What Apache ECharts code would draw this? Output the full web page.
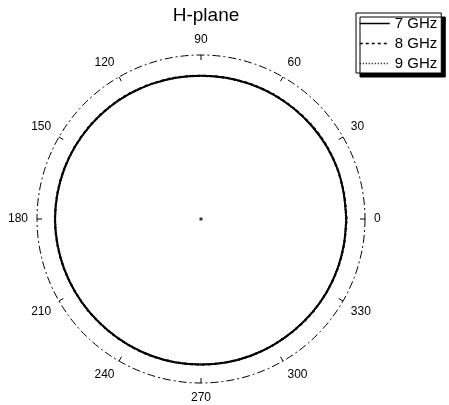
<!DOCTYPE html>
<html>
<head>
<meta charset="utf-8">
<script src="https://cdn.jsdelivr.net/npm/echarts@6/dist/echarts.min.js"></script>
<style>
  html, body { margin: 0; padding: 0; background: #fff; }
  #chart { width: 449px; height: 405px; }
</style>
</head>
<body>
<div id="chart"></div>
<script>
// angles in degrees, 0..360 every 10
const angles = [0, 10, 20, 30, 40, 50, 60, 70, 80, 90, 100, 110, 120, 130, 140, 150, 160, 170,
  180, 190, 200, 210, 220, 230, 240, 250, 260, 270, 280, 290, 300, 310, 320, 330, 340, 350, 360];

// normalised pattern (radius fraction of outer ring)
const ghz7 = [0.886, 0.884, 0.887, 0.885, 0.882, 0.880, 0.878, 0.876, 0.874, 0.873, 0.875, 0.877,
  0.879, 0.882, 0.884, 0.886, 0.888, 0.889, 0.890, 0.889, 0.888, 0.887, 0.886, 0.885, 0.886,
  0.887, 0.888, 0.887, 0.888, 0.887, 0.886, 0.885, 0.886, 0.887, 0.886, 0.885, 0.886];
const ghz8 = [0.888, 0.886, 0.885, 0.887, 0.884, 0.881, 0.879, 0.877, 0.875, 0.874, 0.876, 0.878,
  0.881, 0.883, 0.885, 0.887, 0.889, 0.890, 0.891, 0.890, 0.889, 0.886, 0.887, 0.886, 0.887,
  0.888, 0.887, 0.888, 0.887, 0.888, 0.885, 0.886, 0.887, 0.886, 0.887, 0.886, 0.888];
const ghz9 = [0.884, 0.885, 0.886, 0.884, 0.883, 0.879, 0.877, 0.875, 0.873, 0.872, 0.874, 0.876,
  0.880, 0.881, 0.883, 0.885, 0.887, 0.888, 0.889, 0.888, 0.887, 0.888, 0.885, 0.884, 0.885,
  0.886, 0.887, 0.886, 0.887, 0.886, 0.887, 0.884, 0.885, 0.886, 0.885, 0.886, 0.884];

const names = ["7 GHz", "8 GHz", "9 GHz"];
const lineTypes = ["solid", [3, 3], [1, 2]];
const values = [ghz7, ghz8, ghz9];

function toPairs(arr) {
  return arr.map((r, i) => [r, angles[i]]);
}

const series = values.map((arr, k) => ({
  name: names[k],
  type: "line",
  coordinateSystem: "polar",
  showSymbol: false,
  symbol: "none",
  smooth: 0.3,
  data: toPairs(arr),
  lineStyle: { color: "#000", width: 2, type: lineTypes[k] },
  itemStyle: { color: "#000" },
  silent: true
}));

// small mark at the centre
series.push({
  type: "scatter",
  coordinateSystem: "polar",
  data: [[0, 0]],
  symbol: "rect",
  symbolSize: 3,
  itemStyle: { color: "#000" },
  silent: true
});

const chart = echarts.init(document.getElementById("chart"));
chart.setOption({
  animation: false,
  title: {
    text: "H-plane",
    left: 201,
    top: 1,
    textAlign: "center",
    textStyle: { fontFamily: "Liberation Sans, Arial", fontSize: 19, fontWeight: "normal", color: "#000" }
  },
  legend: {
    data: names,
    orient: "vertical",
    left: 356,
    top: 13,
    padding: [3, 4, 2, 3],
    itemWidth: 30,
    itemHeight: 14,
    itemGap: 5,
    backgroundColor: "#fff",
    borderColor: "#000",
    borderWidth: 1,
    shadowColor: "#000",
    shadowBlur: 0,
    shadowOffsetX: 4,
    shadowOffsetY: 4,
    itemStyle: { opacity: 0 },
    lineStyle: { width: 1.5 },
    textStyle: { fontFamily: "Liberation Sans, Arial", fontSize: 15, color: "#000" }
  },
  polar: { center: [201, 219], radius: 164 },
  radiusAxis: {
    min: 0,
    max: 1,
    show: false
  },
  angleAxis: {
    type: "value",
    min: 0,
    max: 360,
    interval: 30,
    startAngle: 0,
    clockwise: false,
    axisLine: { lineStyle: { color: "#000", width: 1, type: [8, 3, 2, 3] } },
    axisTick: { show: true, inside: true, length: 5, lineStyle: { color: "#000" } },
    axisLabel: {
      margin: 9,
      color: "#000",
      fontFamily: "Liberation Sans, Arial",
      fontSize: 12,
      formatter: v => (v === 360 ? "" : String(v))
    },
    splitLine: { show: false }
  },
  series: series
});
</script>
</body>
</html>
